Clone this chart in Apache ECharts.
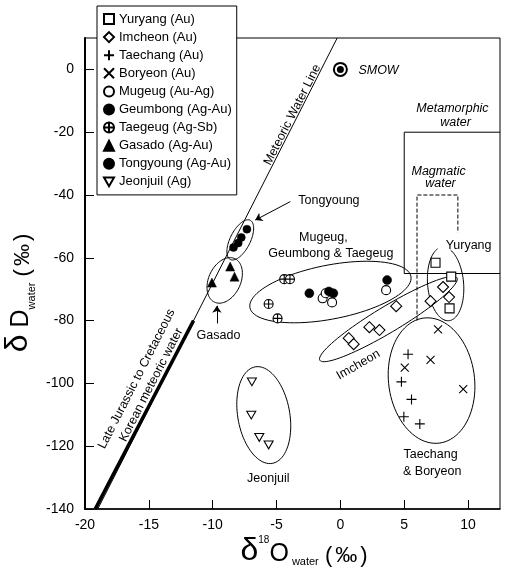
<!DOCTYPE html>
<html>
<head>
<meta charset="utf-8">
<title>Water isotope plot</title>
<script src="https://cdn.jsdelivr.net/npm/echarts@6/dist/echarts.min.js"></script>
<style>
  html, body { margin: 0; padding: 0; background: #fff; }
  #chart { width: 507px; height: 568px; }
</style>
</head>
<body>
<div id="chart"></div>
<script type="text/javascript">
var FONT = '"Liberation Sans", Arial, sans-serif';

// δ18O (x) and δD (y) of each deposit
var yuryang   = [[7.45, -61.6], [8.68, -66.0], [8.55, -76.1]];
var imcheon   = [[4.37, -75.4], [2.27, -82.1], [3.06, -83.0], [0.65, -85.6], [1.04, -87.5], [8.04, -69.3], [8.51, -72.5], [7.06, -73.8]];
var taechang  = [[5.3, -90.7], [4.78, -99.5], [5.57, -105.1], [4.97, -110.6], [6.22, -112.9]];
var boryeon   = [[7.65, -82.8], [7.06, -92.5], [5.04, -95.0], [9.62, -101.8]];
var mugeug    = [[-1.39, -72.9], [-0.65, -74.2], [-1.15, -71.3], [3.58, -70.3]];
var geumbong  = [[-2.43, -71.3], [-0.9, -70.7], [-0.55, -71.3], [3.66, -67.1]];
var taegeug   = [[-4.4, -66.8], [-3.95, -66.8], [-5.62, -74.7], [-4.92, -79.3]];
var gasado    = [[-8.63, -62.8], [-8.29, -66.0], [-10.06, -67.9]];
var tongyoung = [[-7.32, -50.9], [-7.76, -53.5], [-8.0, -55.3], [-8.37, -56.7]];
var jeonjuil  = [[-6.93, -99.5], [-6.98, -110.1], [-6.35, -117.2], [-5.62, -119.6]];
var smow      = [[0, 0]];

// reference lines and fields
var meteoricLine    = [[-19.0, -140], [-0.25, 10]];
var koreanMeteoric  = [[-19.2, -140], [-11.5, -80]];
var metamorphicBox  = [[5, -65], [5, -20], [12.5, -20]];
var metamorphicBase = [[5, -65], [12.5, -65]];
var magmaticBox     = [[6, -80], [6, -40], [9.2, -40], [9.2, -52]];
var arrows = [
  [[-3.92, -42.1], [-6.67, -48.0]],
  [[-9.67, -80.9], [-9.67, -75.3]]
];

// group outlines: centre in data units, half axes in px, tilt in degrees, optional open arc
var outlines = [
  { at: [-7.84, -54.3], a: 22, b: 10, rot: 63 },
  { at: [-9.06, -67.2], a: 24, b: 16, rot: 65 },
  { at: [-0.78, -70.9], a: 82, b: 27, rot: 11 },
  { at: [3.76, -79.5],  a: 80, b: 13, rot: 31 },
  { at: [8.24, -68.3],  a: 37, b: 18, rot: 95, gap: [-16, 26] },
  { at: [7.14, -99.1],  a: 63, b: 43, rot: 97 },
  { at: [-6.0, -110.1], a: 49, b: 26, rot: 100 }
];

var notes = [
  { at: [-3.76, -14.5], text: 'Meteoric Water Line', rot: 63 },
  { at: [1.41, -0.2], text: 'SMOW', italic: true, align: 'left' },
  { at: [8.78, -12.3], text: 'Metamorphic', italic: true },
  { at: [9.02, -17.0], text: 'water', italic: true },
  { at: [7.69, -32.4], text: 'Magmatic', italic: true },
  { at: [7.84, -36.4], text: 'water', italic: true },
  { at: [-3.29, -41.9], text: 'Tongyoung', align: 'left' },
  { at: [-1.33, -53.4], text: 'Mugeug,' },
  { at: [-0.75, -58.5], text: 'Geumbong & Taegeug' },
  { at: [10.04, -56.2], text: 'Yuryang' },
  { at: [1.41, -94.1], text: 'Imcheon', rot: 30 },
  { at: [7.06, -122.8], text: 'Taechang' },
  { at: [7.19, -128.1], text: '& Boryeon' },
  { at: [-5.65, -130.4], text: 'Jeonjuil' },
  { at: [-9.55, -84.9], text: 'Gasado' },
  { at: [-15.95, -98.6], text: 'Late Jurassic to Cretaceous', rot: 63 },
  { at: [-14.82, -100.5], text: 'Korean meteoric water', rot: 63 }
];

var names = ['Yuryang (Au)', 'Imcheon (Au)', 'Taechang (Au)', 'Boryeon (Au)', 'Mugeug (Au-Ag)',
  'Geumbong (Ag-Au)', 'Taegeug (Ag-Sb)', 'Gasado (Ag-Au)', 'Tongyoung (Ag-Au)', 'Jeonjuil (Ag)'];

var PLUS = 'path://M5,0L5,10M0,5L10,5';
var CROSS = 'path://M0,0L10,10M10,0L0,10';
var CIRCLE_PLUS = 'path://M10,5A5,5,0,1,1,0,5A5,5,0,1,1,10,5ZM5,0L5,10M0,5L10,5';
var DOWN_TRI = 'path://M0,0L10,0L5,8.66Z';

function pts(name, data, symbol, size, filled) {
  return {
    type: 'scatter', name: name, data: data, symbol: symbol, symbolSize: size,
    symbolKeepAspect: true, z: 5,
    itemStyle: filled
      ? { color: '#000', borderColor: '#000', borderWidth: 0.5, opacity: 1 }
      : { color: '#fff', borderColor: '#000', borderWidth: 1.1, opacity: 1 },
    emphasis: { disabled: true }
  };
}

function plainLine(data, width, dashed) {
  return {
    type: 'line', data: data, symbol: 'none', silent: true, z: 2,
    lineStyle: { color: '#000', width: width, type: dashed ? [4, 2] : 'solid' }
  };
}

var chart = echarts.init(document.getElementById('chart'), null, { renderer: 'canvas' });

chart.setOption({
  animation: false,
  backgroundColor: '#fff',
  grid: { left: 85, right: 7, top: 38, bottom: 59, show: true, borderColor: '#000', borderWidth: 1 },
  legend: {
    data: names, orient: 'vertical', left: 97, top: 6,
    backgroundColor: '#fff', borderColor: '#000', borderWidth: 1,
    padding: [6, 5, 6, 6], itemWidth: 10, itemHeight: 10, itemGap: 4.1,
    textStyle: { color: '#000', fontSize: 13, lineHeight: 14, fontFamily: FONT },
    selectedMode: false
  },
  xAxis: {
    type: 'value', min: -20, max: 12.5, interval: 5,
    axisLine: { onZero: false, lineStyle: { color: '#000', width: 1.5 } },
    axisTick: { inside: true, length: 9, lineStyle: { color: '#000' } },
    axisLabel: { color: '#000', fontSize: 14, fontFamily: FONT, margin: 9, showMaxLabel: false },
    splitLine: { show: false }
  },
  yAxis: {
    type: 'value', min: -140, max: 10, interval: 20,
    axisLine: { onZero: false, lineStyle: { color: '#000', width: 2 } },
    axisTick: { inside: true, length: 9, lineStyle: { color: '#000' } },
    axisLabel: { color: '#000', fontSize: 14, fontFamily: FONT, margin: 11, showMaxLabel: false },
    splitLine: { show: false }
  },
  graphic: [
    {
      type: 'text', x: 18, y: 293, rotation: Math.PI / 2,
      style: {
        text: '{d|δ}{D| D}{s|water}{p| (}{q|‰}{p|)}', align: 'center', verticalAlign: 'middle', fill: '#000',
        rich: {
          d: { fontSize: 32, fontFamily: FONT, verticalAlign: 'bottom' },
          D: { fontSize: 25, fontFamily: FONT, verticalAlign: 'bottom' },
          s: { fontSize: 11, fontFamily: FONT, verticalAlign: 'bottom', padding: [0, 0, -3, 0] },
          p: { fontSize: 22, fontFamily: FONT, verticalAlign: 'bottom' },
          q: { fontSize: 22, fontFamily: FONT, verticalAlign: 'bottom', padding: [0, 3, 0, 3] }
        }
      }
    },
    {
      type: 'text', x: 304, y: 551,
      style: {
        text: '{d|δ}{u|18}{O|O}{s| water}{p| (}{q|‰}{p|)}', align: 'center', verticalAlign: 'middle', fill: '#000',
        rich: {
          d: { fontSize: 32, fontFamily: FONT, verticalAlign: 'bottom' },
          u: { fontSize: 10, fontFamily: FONT, verticalAlign: 'top' },
          O: { fontSize: 25, fontFamily: FONT, verticalAlign: 'bottom' },
          s: { fontSize: 11, fontFamily: FONT, verticalAlign: 'bottom' },
          p: { fontSize: 22, fontFamily: FONT, verticalAlign: 'bottom' },
          q: { fontSize: 22, fontFamily: FONT, verticalAlign: 'bottom', padding: [0, 3, 0, 3] }
        }
      }
    }
  ],
  series: [
    plainLine(meteoricLine, 1),
    plainLine(koreanMeteoric, 3.5),
    plainLine(metamorphicBox, 1),
    plainLine(metamorphicBase, 1),
    plainLine(magmaticBox, 1, true),
    {
      type: 'lines', coordinateSystem: 'cartesian2d', silent: true, z: 3,
      symbol: ['none', 'arrow'], symbolSize: 7,
      lineStyle: { color: '#000', width: 1, opacity: 1 },
      data: arrows.map(function (c) { return { coords: c }; })
    },
    {
      type: 'custom', silent: true, z: 3, clip: false,
      data: outlines.map(function (o) { return o.at; }),
      renderItem: function (params, api) {
        var o = outlines[params.dataIndex];
        var c = api.coord([api.value(0), api.value(1)]);
        var r = o.rot * Math.PI / 180;
        var ux = Math.cos(r), uy = -Math.sin(r), vx = Math.sin(r), vy = Math.cos(r);
        var from = o.gap ? o.gap[1] : 0;
        var to = o.gap ? o.gap[0] + 360 : 360;
        var n = 90, points = [];
        for (var i = 0; i <= n; i++) {
          var t = (from + (to - from) * i / n) * Math.PI / 180;
          var p = o.a * Math.cos(t), q = o.b * Math.sin(t);
          points.push([c[0] + p * ux + q * vx, c[1] + p * uy + q * vy]);
        }
        return { type: 'polyline', shape: { points: points }, style: { stroke: '#000', fill: null, lineWidth: 1 } };
      }
    },
    {
      type: 'custom', silent: true, z: 6, clip: false,
      data: notes.map(function (n) { return n.at; }),
      renderItem: function (params, api) {
        var n = notes[params.dataIndex];
        var c = api.coord([api.value(0), api.value(1)]);
        return {
          type: 'text', x: c[0], y: c[1], rotation: (n.rot || 0) * Math.PI / 180,
          style: {
            text: n.text, fill: '#000',
            font: (n.italic ? 'italic ' : '') + '12.5px ' + FONT,
            align: n.align || 'center', verticalAlign: 'middle'
          }
        };
      }
    },
    { type: 'scatter', data: smow, symbol: 'circle', symbolSize: 13, z: 5, silent: true,
      itemStyle: { color: '#fff', borderColor: '#000', borderWidth: 2, opacity: 1 } },
    { type: 'scatter', data: smow, symbol: 'circle', symbolSize: 7, z: 6, silent: true,
      itemStyle: { color: '#000', opacity: 1 } },
    pts(names[0], yuryang, 'rect', 9, false),
    pts(names[1], imcheon, 'diamond', 11, false),
    pts(names[2], taechang, PLUS, 10, false),
    pts(names[3], boryeon, CROSS, 8, false),
    pts(names[4], mugeug, 'circle', 9, false),
    pts(names[5], geumbong, 'circle', 9, true),
    pts(names[6], taegeug, CIRCLE_PLUS, 9, false),
    pts(names[7], gasado, 'triangle', 9, true),
    pts(names[8], tongyoung, 'circle', 8, true),
    pts(names[9], jeonjuil, DOWN_TRI, 9, false)
  ]
});

window.onresize = function () { chart.resize(); };
</script>
</body>
</html>
